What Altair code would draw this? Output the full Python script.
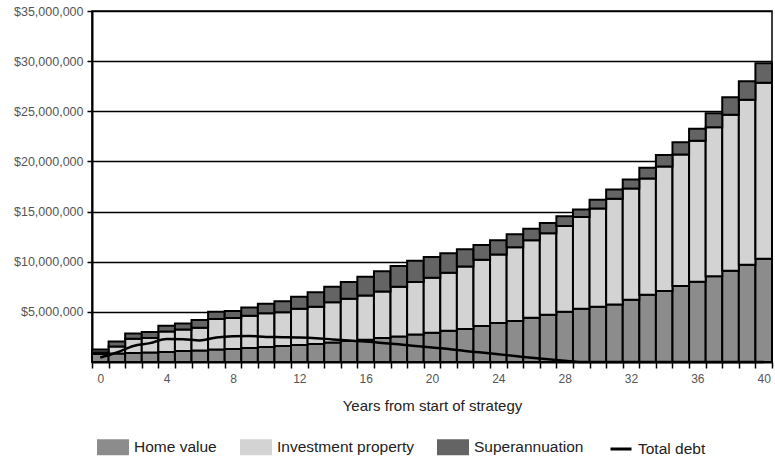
import altair as alt
import pandas as pd

# Years from the start of the strategy
years = list(range(41))

# Asset values by year, in $ millions (stacked bottom to top)
home_value = [0.80, 0.85, 0.90, 0.95, 1.00, 1.10, 1.15, 1.25, 1.30, 1.40,
              1.50, 1.60, 1.70, 1.80, 1.95, 2.10, 2.22, 2.40, 2.55, 2.75,
              2.92, 3.12, 3.30, 3.60, 3.88, 4.10, 4.40, 4.70, 5.00, 5.30,
              5.50, 5.73, 6.20, 6.70, 7.07, 7.57, 8.00, 8.55, 9.10, 9.70, 10.30]
investment_property = [0.15, 0.70, 1.42, 1.45, 2.05, 2.13, 2.27, 3.05, 3.08, 3.20,
                       3.35, 3.35, 3.60, 3.70, 4.01, 4.20, 4.41, 4.63, 4.95, 5.22,
                       5.48, 5.78, 6.22, 6.60, 6.84, 7.35, 7.75, 8.15, 8.57, 9.17,
                       9.80, 10.55, 11.09, 11.60, 12.43, 13.13, 14.05, 14.85, 15.55, 16.45, 17.54]
superannuation = [0.30, 0.50, 0.53, 0.58, 0.57, 0.62, 0.76, 0.72, 0.70, 0.83,
                  0.97, 1.11, 1.20, 1.46, 1.54, 1.67, 1.87, 2.02, 2.08, 2.13,
                  2.07, 1.95, 1.73, 1.46, 1.42, 1.28, 1.13, 1.01, 0.97, 0.73,
                  0.89, 0.91, 0.90, 1.07, 1.14, 1.20, 1.20, 1.40, 1.75, 1.85, 1.96]

# Outstanding debt by year, in $ millions
total_debt = [0.45, 0.95, 1.60, 1.88, 2.30, 2.28, 2.15, 2.45, 2.58, 2.60,
              2.50, 2.48, 2.45, 2.38, 2.25, 2.14, 2.04, 1.90, 1.78, 1.60,
              1.45, 1.30, 1.10, 0.94, 0.77, 0.60, 0.43, 0.27, 0.13, 0.00,
              0.00, 0.00, 0.00, 0.00, 0.00, 0.00, 0.00, 0.00, 0.00, 0.00, 0.00]

series_names = ["Home value", "Investment property", "Superannuation"]
series_colors = ["#8c8c8c", "#d3d3d3", "#646464"]
y_ticks = [5, 10, 15, 20, 25, 30, 35]

rows = []
for idx, (name, values) in enumerate(zip(series_names,
                                         [home_value, investment_property, superannuation])):
    for yr, v in zip(years, values):
        rows.append({"year": yr, "series": name, "stack_order": idx, "value": v * 1e6})
bars_df = pd.DataFrame(rows)

debt_df = pd.DataFrame({
    "year": years,
    "value": [d * 1e6 for d in total_debt],
    "label": ["Total debt"] * len(years),
})

x_enc = alt.X(
    "year:O",
    title="Years from start of strategy",
    scale=alt.Scale(paddingInner=0, paddingOuter=0),
    axis=alt.Axis(
        tickBand="extent",
        labelExpr="datum.value % 4 == 0 ? datum.label : ''",
        labelAngle=0,
        tickSize=6,
        tickColor="black",
        tickWidth=1.5,
        domainColor="black",
        domainWidth=2,
        labelColor="#555555",
        labelFontSize=12,
        labelPadding=5,
        titleFontSize=15,
        titleFontWeight="normal",
        titleColor="#222222",
        titlePadding=14,
        grid=False,
    ),
)

y_axis = alt.Axis(
    values=[t * 1e6 for t in y_ticks],
    format="$,.0f",
    tickSize=5,
    tickColor="black",
    tickWidth=1.5,
    domainColor="black",
    domainWidth=2,
    labelColor="#555555",
    labelFontSize=12.5,
    labelPadding=4,
    grid=True,
    gridColor="black",
    gridWidth=1.5,
    gridOpacity=1,
)
y_scale = alt.Scale(domain=[0, 35e6], nice=False)

bars = alt.Chart(bars_df).mark_bar(stroke="black", strokeWidth=2).encode(
    x=x_enc,
    y=alt.Y("value:Q", stack="zero", scale=y_scale, axis=y_axis, title=None),
    fill=alt.Fill(
        "series:N",
        scale=alt.Scale(domain=series_names, range=series_colors),
        legend=alt.Legend(
            title=None,
            orient="none",
            legendX=5,
            legendY=420,
            direction="horizontal",
            symbolType="M-1,-0.5H1V0.5H-1Z",
            symbolSize=1024,
            symbolStrokeWidth=0,
            symbolOpacity=1,
            labelFontSize=15.5,
            labelColor="#222222",
            labelOffset=5,
            columnPadding=23,
            padding=0,
        ),
    ),
    order=alt.Order("stack_order:Q", sort="ascending"),
)

debt_line = alt.Chart(debt_df).mark_line(strokeWidth=2.5, interpolate="monotone").encode(
    x=x_enc,
    y=alt.Y("value:Q", scale=y_scale, axis=y_axis, title=None),
    stroke=alt.Stroke(
        "label:N",
        scale=alt.Scale(domain=["Total debt"], range=["black"]),
        legend=alt.Legend(
            title=None,
            orient="none",
            legendX=517,
            legendY=426,
            symbolType="stroke",
            symbolSize=441,
            symbolStrokeWidth=3,
            labelFontSize=15.5,
            labelColor="#222222",
            labelOffset=5,
            padding=0,
        ),
    ),
)

chart = alt.layer(bars, debt_line).resolve_scale(
    fill="independent", stroke="independent"
).properties(
    width=680,
    height=351,
    padding={"left": 92, "top": 11, "right": 3, "bottom": 98},
    autosize=alt.AutoSizeParams(type="none"),
    background="white",
).configure(
    font="Liberation Sans"
).configure_view(
    stroke="black", strokeWidth=1.5
)

chart.save("out.html", embed_options={"renderer": "svg", "actions": False})
